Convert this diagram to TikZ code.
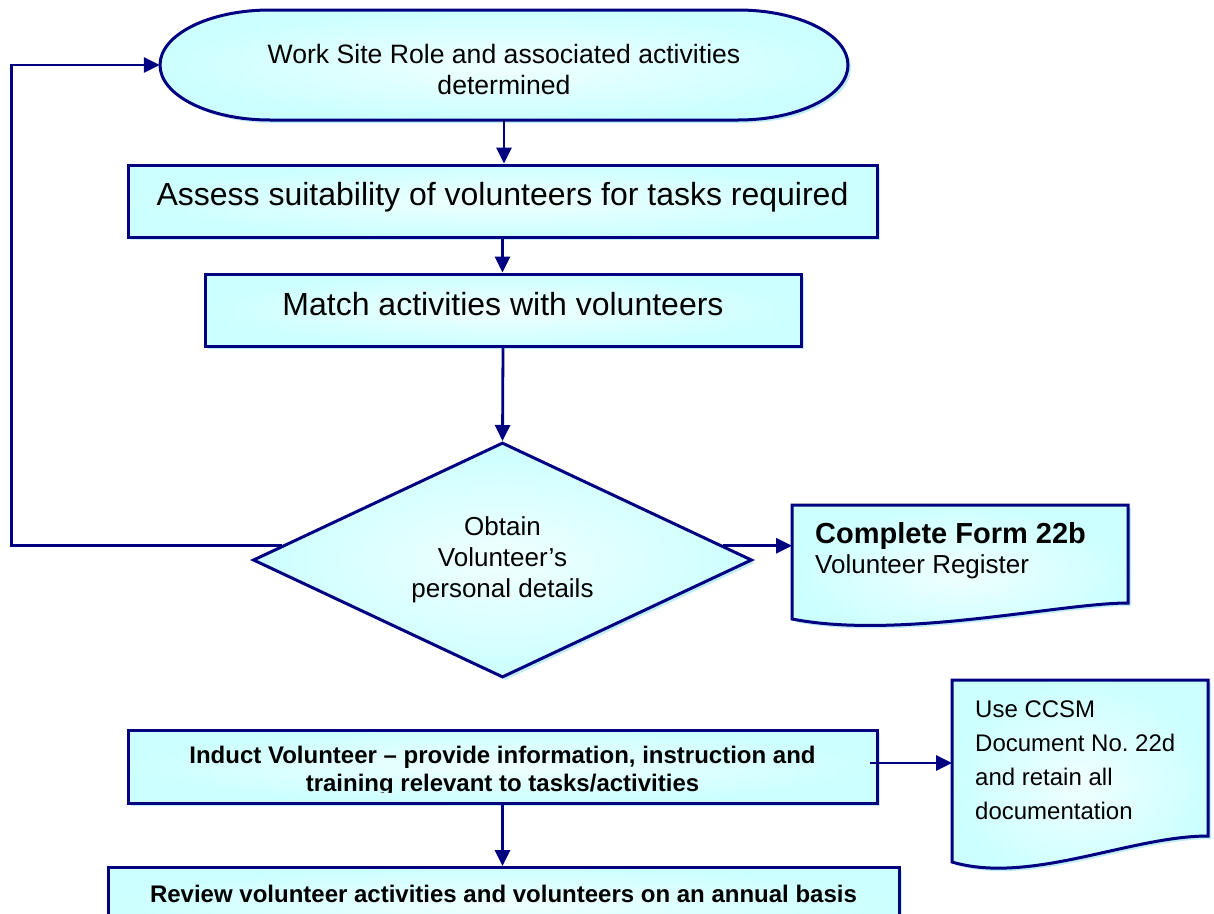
\documentclass[tikz,border=0pt]{standalone}
\usepackage{fontspec}
\setmainfont{Liberation Sans}
\usetikzlibrary{arrows.meta,shapes.geometric,shadows,calc}

\definecolor{navy}{RGB}{0,0,128}
\definecolor{cyanfill}{RGB}{204,255,255}
\definecolor{cyanin}{RGB}{240,255,255}
\definecolor{shadowc}{RGB}{192,236,246}

\tikzset{
  flowshadow/.style={drop shadow={shadow xshift=3pt, shadow yshift=-3pt, fill=shadowc, opacity=1}},
  stepbox/.style={draw=navy, line width=3pt, shade, shading=radial,
    inner color=cyanin, outer color=cyanfill, flowshadow, inner sep=0pt},
  frame/.style={draw=none, fill=none, inner sep=0pt},
  link/.style={draw=navy, line width=2.8pt, -{Triangle[length=16pt,width=15pt]}},
  plain/.style={inner sep=0pt, text=black},
}

\begin{document}
\begin{tikzpicture}[x=1pt,y=-1pt]
\clip (0,0) rectangle (1214,913);

% terminator with half-ellipse ends
\path[stepbox] (270,10) -- (738,10)
  .. controls (798.75,10) and (848,34.6) .. (848,65)
  .. controls (848,95.4) and (798.75,120) .. (738,120) -- (270,120)
  .. controls (209.25,120) and (160,95.4) .. (160,65)
  .. controls (160,34.6) and (209.25,10) .. (270,10) -- cycle;
\node[frame, minimum width=688pt, minimum height=110pt] (role) at (504,65) {};
\node[plain, align=center, font=\fontsize{26.6}{31}\selectfont] (roletext) at (504,69)
  {Work Site Role and associated activities\\determined};

% process boxes
\node[stepbox, minimum width=749pt, text height=40pt, text depth=32pt,
      font=\fontsize{32}{36}\selectfont] (assess) at (502.5,201)
  {Assess suitability of volunteers for tasks required};
\node[stepbox, minimum width=596pt, text height=41pt, text depth=31pt,
      font=\fontsize{32}{36}\selectfont] (match) at (503,310)
  {Match activities with volunteers};

% decision
\node[stepbox, diamond, aspect=2.12, minimum width=499pt, minimum height=235pt,
      align=center, font=\fontsize{26}{31}\selectfont] (obtain) at (502.5,560)
  {Obtain\\Volunteer’s\\personal details};
\coordinate (leftexit) at ($(obtain.west)!0.12!(obtain.north)$);
\coordinate (rightexit) at ($(obtain.east)!0.12!(obtain.north)$);

% register document
\path[stepbox] (792,505) -- (1128,505) -- (1128,603)
  .. controls (1060,603) and (900,640) .. (792,619) -- cycle;
\node[frame, anchor=north west, minimum width=336pt, minimum height=98pt] (form) at (792,505) {};
\node[plain, anchor=base west, font=\fontsize{29}{32}\selectfont\bfseries] (formtitle) at (815,543)
  {Complete Form 22b};
\node[plain, anchor=base west, font=\fontsize{26}{30}\selectfont] (formsub) at (815,573)
  {Volunteer Register};

% induction box, its second line is cut off by the frame
\node[stepbox, minimum width=749pt, minimum height=73pt] (induct) at (502.5,766.5) {};
\begin{scope}
  \clip (128,730) rectangle (877,792);
  \node[plain, anchor=north, align=center, font=\fontsize{24}{28}\selectfont\bfseries]
    (inducttext) at (502.5,745.5)
    {Induct Volunteer – provide information, instruction and\\training relevant to tasks/activities};
\end{scope}

% documentation note
\path[stepbox] (952,680) -- (1208,680) -- (1208,836)
  .. controls (1130,836) and (1030,885) .. (952,862) -- cycle;
\node[frame, anchor=north west, minimum width=256pt, minimum height=156pt] (ccsm) at (952,680) {};
\node[plain, anchor=north west, align=left, font=\fontsize{24}{34}\selectfont] (ccsmtext) at (975,700.5)
  {Use CCSM\\Document No.\ 22d\\and retain all\\documentation};

% review box, running past the lower edge
\node[stepbox, anchor=north, minimum width=791pt, text height=35pt, text depth=38pt,
      font=\fontsize{24}{28}\selectfont\bfseries] (review) at (503.5,866)
  {Review volunteer activities and volunteers on an annual basis};

% connectors
\draw[link] (role.south) -- (role.south |- assess.north);
\draw[link] (assess.south) -- (assess.south |- match.north);
\draw[link] (match.south) -- (obtain.north);
\draw[link] (leftexit) -| ($(role.west)+(-148,0)$) -- (role.west);
\draw[link] (rightexit) -- (rightexit -| form.west);
\draw[link] ([xshift=-9pt,yshift=3.5pt]induct.east) -- ([yshift=3.5pt]induct.east -| ccsm.west);
\draw[link] (induct.south) -- (induct.south |- review.north);
\end{tikzpicture}
\end{document}
